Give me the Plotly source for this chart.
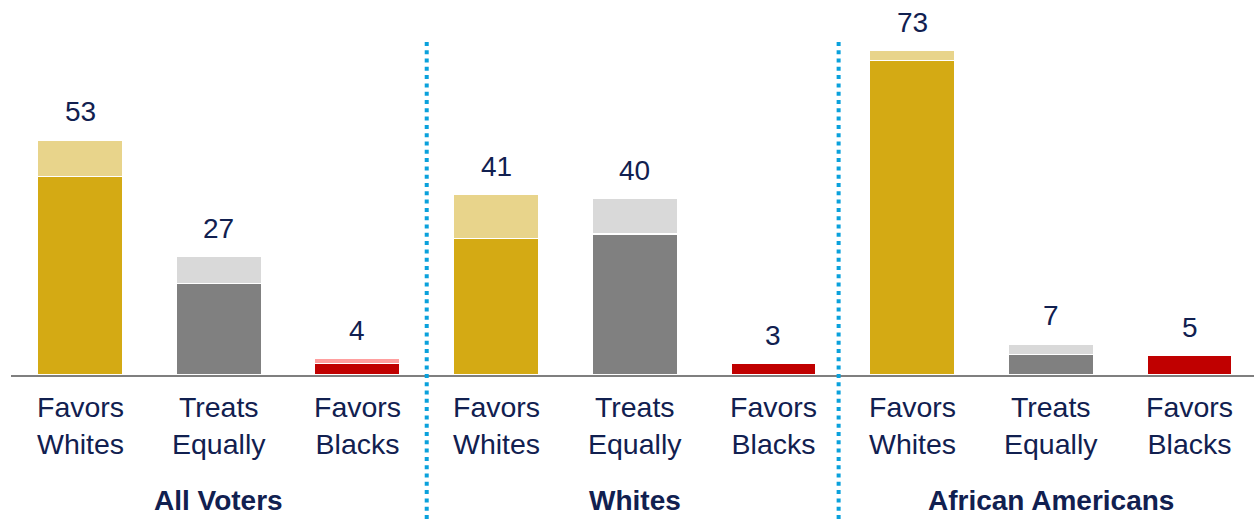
import plotly.graph_objects as go

# ---- data ----
groups = ["All Voters", "Whites", "African Americans"]
answers = ["Favors<br>Whites", "Treats<br>Equally", "Favors<br>Blacks"]
strong = [44.7, 20.7, 2.6, 30.8, 31.8, 2.6, 71.0, 4.7, 4.5]
somewhat = [8.3, 6.1, 1.1, 10.0, 8.0, 0.0, 2.1, 2.3, 0.0]
totals = [53, 27, 4, 41, 40, 3, 73, 7, 5]

# ---- styles ----
dark_cols = ["#D4AA14", "#808080", "#C00000"] * 3
light_cols = ["#E8D48B", "#D9D9D9", "#FF9F9F"] * 3
navy = "#112050"
font_fam = "Arial, Liberation Sans, sans-serif"

xpos = list(range(len(strong)))
cat_labels = answers * len(groups)

XMIN, XMAX = -0.4975, 8.465
YMAX = 84.55

fig = go.Figure()
fig.add_trace(go.Bar(x=xpos, y=strong, width=0.613,
                     marker=dict(color=dark_cols, line=dict(color="white", width=1.2)),
                     hoverinfo="skip"))
fig.add_trace(go.Bar(x=xpos, y=somewhat, width=0.613,
                     marker=dict(color=light_cols, line=dict(color="white", width=1.2)),
                     hoverinfo="skip"))

annotations = []
for i, (s, w, t) in enumerate(zip(strong, somewhat, totals)):
    annotations.append(dict(x=i, y=s + w, xref="x", yref="y", text=str(t),
                            showarrow=False, yanchor="middle", yshift=28,
                            font=dict(size=28, color=navy, family=font_fam)))
for i, lab in enumerate(cat_labels):
    annotations.append(dict(x=i, y=0, xref="x", yref="y", text=lab,
                            showarrow=False, yanchor="middle", yshift=-50,
                            font=dict(size=28.5, color=navy, family=font_fam)))
for g, name in enumerate(groups):
    annotations.append(dict(x=g * 3 + 1, y=0, xref="x", yref="y", text="<b>" + name + "</b>",
                            showarrow=False, yanchor="middle", yshift=-125,
                            font=dict(size=28, color=navy, family=font_fam)))

shapes = []
for d in [2.5, 5.47]:
    px = (d - XMIN) / (XMAX - XMIN)
    shapes.append(dict(type="line", xref="paper", yref="paper", x0=px, x1=px,
                       y0=-0.384, y1=0.888,
                       line=dict(color="#0AA1DC", width=4, dash="4px,4.3px")))

fig.update_layout(
    barmode="stack", showlegend=False,
    width=1254, height=519,
    margin=dict(l=11, r=0, t=0, b=144),
    plot_bgcolor="white", paper_bgcolor="white",
    xaxis=dict(range=[XMIN, XMAX], showticklabels=False, showgrid=False, zeroline=False,
               showline=True, linecolor="#7F7F7F", linewidth=2, ticks=""),
    yaxis=dict(range=[0, YMAX], visible=False, showgrid=False, zeroline=False),
    annotations=annotations, shapes=shapes,
)

fig.write_html("out.html", config={"displayModeBar": False},
               post_script="document.body.style.margin='0';document.body.style.overflow='hidden';")
